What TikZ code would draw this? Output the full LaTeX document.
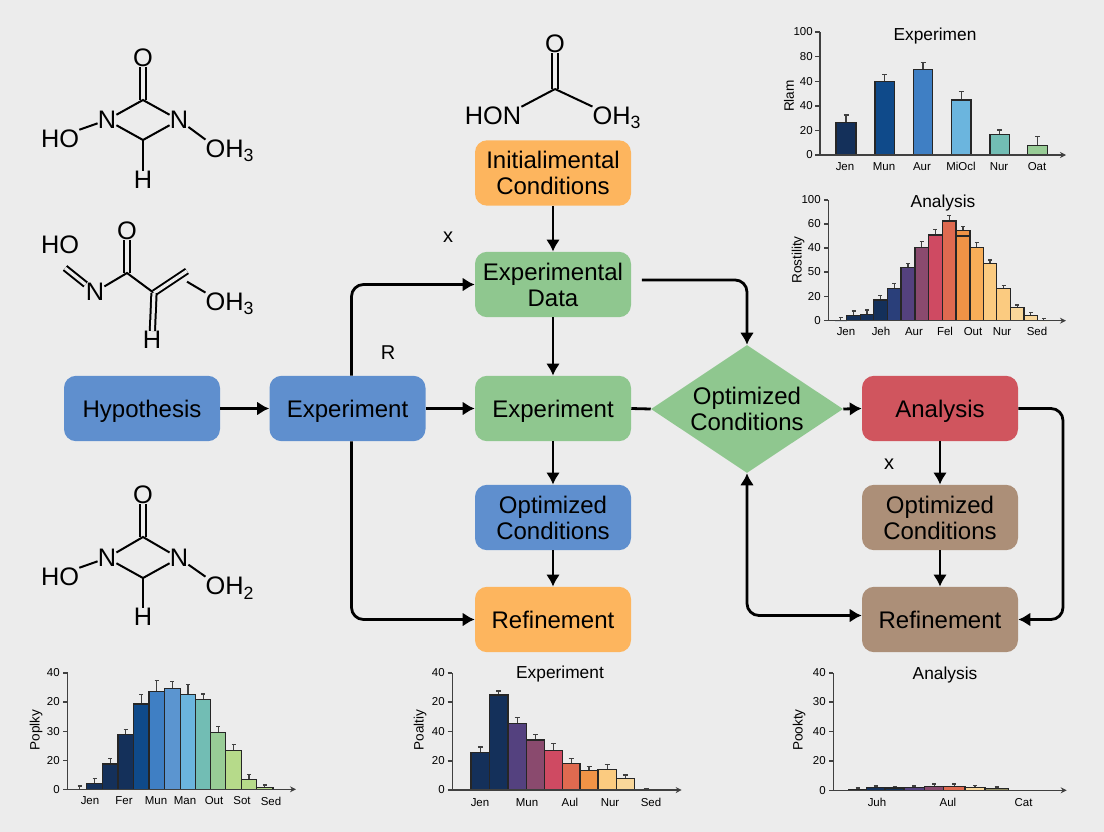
\documentclass[tikz,border=0pt]{standalone}
\usepackage{fontspec}
\setmainfont{Liberation Sans}
\usetikzlibrary{shapes.geometric,arrows.meta}
\definecolor{pagebg}{HTML}{ECECEC}
\definecolor{boxblue}{HTML}{5F8FCE}
\definecolor{boxorange}{HTML}{FDB55E}
\definecolor{boxgreen}{HTML}{8FC78F}
\definecolor{boxred}{HTML}{D0555E}
\definecolor{boxbrown}{HTML}{AC8F78}
\definecolor{navy}{HTML}{14305A}
\definecolor{deep}{HTML}{0F4A8A}
\definecolor{mid}{HTML}{3F7FC4}
\definecolor{soft}{HTML}{5B95D0}
\definecolor{sky}{HTML}{6BB5DE}
\definecolor{teal}{HTML}{72BDB4}
\definecolor{leaf}{HTML}{98CC96}
\definecolor{lime}{HTML}{B6DA8A}
\definecolor{ink}{HTML}{2A3F7A}
\definecolor{plum}{HTML}{54417F}
\definecolor{wine}{HTML}{8A4A6E}
\definecolor{rose}{HTML}{CF4A62}
\definecolor{coral}{HTML}{DF6A50}
\definecolor{amber}{HTML}{F09346}
\definecolor{honey}{HTML}{F8AE58}
\definecolor{sand}{HTML}{FBCB80}
\definecolor{cream}{HTML}{F9D79A}
\definecolor{olive}{HTML}{8F8A60}
\begin{document}
\begin{tikzpicture}[
    x=0.75pt,
    y=-0.75pt,
    >={Latex[length=9pt,width=10.5pt]},
    flowbox/.style={
        rounded corners=9pt,
        align=center,
        inner sep=0pt,
        minimum width=117pt,
        minimum height=49pt,
        font=\fontsize{18}{19.5}\selectfont
    },
    oneline/.style={text depth=0pt},
    flowdia/.style={
        diamond,
        aspect=1.5,
        align=center,
        inner sep=0pt,
        minimum width=144pt,
        minimum height=96pt,
        fill=boxgreen,
        font=\fontsize{18}{19.5}\selectfont
    },
    flow/.style={->,line width=2.1pt,black,rounded corners=9pt},
    atom/.style={inner sep=0pt,font=\fontsize{19}{21}\selectfont},
    bond/.style={line width=1.5pt,black},
    dbond/.style={bond,double=pagebg,double distance=2.4pt},
    marktext/.style={inner sep=0pt,font=\fontsize{15}{17}\selectfont},
    axisline/.style={-{Stealth[length=4.5pt,width=4.5pt]},line width=0.9pt,black!75},
    bar/.style={draw=black!85,line width=0.9pt},
    err/.style={line width=0.8pt,black!75},
    ticklabel/.style={anchor=east,inner sep=0pt,font=\fontsize{8.6}{10}\selectfont},
    barlabel/.style={inner sep=0pt,font=\fontsize{8.6}{10}\selectfont},
    charttitle/.style={inner sep=0pt,text depth=0pt,font=\fontsize{13}{15}\selectfont},
    ylabel/.style={inner sep=0pt,rotate=90,font=\fontsize{10.2}{12}\selectfont}
]
\useasboundingbox (0,0) rectangle (1104,832);
\fill[pagebg] (0,0) rectangle (1104,832);

% Flow
\node[flowbox,oneline,fill=boxblue] (hypo) at (142,408.5) {Hypothesis};
\node[flowbox,oneline,fill=boxblue] (expleft) at (347.5,408.5) {Experiment};
\node[flowbox,fill=boxorange] (init) at (553,173) {Initialimental\\Conditions};
\node[flowbox,fill=boxgreen] (data) at (553,284.5) {Experimental\\Data};
\node[flowbox,oneline,fill=boxgreen] (expmid) at (553,408.5) {Experiment};
\node[flowbox,fill=boxblue] (optmid) at (553,517.5) {Optimized\\Conditions};
\node[flowbox,fill=boxorange] (refmid) at (553,619.5) {Refinement};
\node[flowdia] (optdia) at (747,409) {Optimized\\Conditions};
\node[flowbox,oneline,fill=boxred] (analysis) at (940,408.5) {Analysis};
\node[flowbox,fill=boxbrown] (optright) at (940,517.5) {Optimized\\Conditions};
\node[flowbox,fill=boxbrown] (refright) at (940,619.5) {Refinement};
\coordinate (loopright) at (1063,500);

\node[marktext] (markx) at (448,237.5) {x};
\node[marktext] (markr) at (388,352.5) {R};
\node[marktext] (marky) at (889,464.5) {x};

% Connections
\draw[flow] (hypo.east) -- (expleft.west);
\draw[flow] (expleft.east) -- (expmid.west);
\draw[flow] ([xshift=3pt]expleft.north) |- (data.west);
\draw[flow] ([xshift=3pt]expleft.south) |- (refmid.west);
\draw[flow] (init.south) -- (data.north);
\draw[flow] (data.south) -- (expmid.north);
\draw[flow] (expmid.south) -- (optmid.north);
\draw[flow] (optmid.south) -- (refmid.north);
\draw[line width=2.1pt] (expmid.east) -- (optdia.west);
\draw[flow,shorten <=8pt] ([yshift=3.4pt]data.east) -| (optdia.north);
\draw[flow] (optdia.east) -- (analysis.west);
\draw[flow] (analysis.south) -- (optright.north);
\draw[flow] (optright.south) -- (refright.north);
\draw[flow] (analysis.east) -| (loopright) |- (refright.east);
\draw[flow,<->] (optdia.south) |- ([yshift=3pt]refright.west);

% Molecule top left
\node[atom] (ao) at (143,58) {O};
\coordinate (ac) at (143,100);
\node[atom] (an) at (107,120) {N};
\node[atom] (am) at (179,120) {N};
\coordinate (ad) at (143,140);
\node[atom] (ah) at (143,180) {H};
\node[atom] (ahl) at (60,139) {HO};
\node[atom] (ahr) at (230,151) {OH\textsubscript{3}};
\draw[dbond] (ao) -- (ac);
\draw[bond] (an) -- (ac) -- (am) -- (ad) -- (an);
\draw[bond] (ad) -- (ah);
\draw[bond] (ahl.north east) -- (an);
\draw[bond] (am) -- (ahr.north west);

% Molecule middle left
\node[atom] (bhl) at (60,245) {HO};
\node[atom] (bo) at (127,231) {O};
\node[atom] (bn) at (95,292) {N};
\coordinate (bfree) at (65,268);
\coordinate (bc) at (127,273);
\coordinate (bd) at (154,293);
\coordinate (be) at (187,271);
\node[atom] (bh) at (152,340) {H};
\node[atom] (bhr) at (230,304) {OH\textsubscript{3}};
\draw[dbond] (bfree) -- (bn);
\draw[dbond] (bo) -- (bc);
\draw[bond] (bn) -- (bc) -- (bd);
\draw[dbond] (bd) -- (be);
\draw[dbond] (bd) -- (bh);
\draw[bond] ([yshift=-8pt]be) -- (bhr.north west);

% Molecule bottom left
\node[atom] (co) at (143,495) {O};
\coordinate (cc) at (143,537);
\node[atom] (cn) at (107,558) {N};
\node[atom] (cm) at (179,558) {N};
\coordinate (cd) at (143,578);
\node[atom] (ch) at (143,617) {H};
\node[atom] (chl) at (60,577) {HO};
\node[atom] (chr) at (230,588) {OH\textsubscript{2}};
\draw[dbond] (co) -- (cc);
\draw[bond] (cn) -- (cc) -- (cm) -- (cd) -- (cn);
\draw[bond] (cd) -- (ch);
\draw[bond] (chl.north east) -- (cn);
\draw[bond] (cm) -- (chr.north west);

% Molecule top middle
\node[atom] (do) at (555,44) {O};
\coordinate (dc) at (555,89);
\node[atom] (dl) at (493,116) {HON};
\node[atom] (dr) at (617,118) {OH\textsubscript{3}};
\draw[dbond] (do) -- (dc);
\draw[bond] (dl.north east) -- (dc);
\draw[bond] (dc) -- (dr.north west);

% Chart top right
\node[charttitle] (tatitle) at (935,34) {Experimen};
\node[ylabel] (taylabel) at (789,96) {Rlam};
\foreach \y/\t [count=\i] in {32/100,56.7/80,81.3/40,106/40,130.3/20,155/0}{
    \draw[line width=0.9pt,black!75] (815,\y) -- (820,\y);
    \node[ticklabel] (tatick\i) at (813,\y) {\t};
}
\foreach \xa/\xb/\yt/\ye/\c in {
    836/856/122.7/115/navy,875/894.3/81.3/74.3/deep,913.3/932.7/69.3/62.3/mid,
    951.7/971/100/91.7/sky,990/1009.3/134.3/130/teal,1027.7/1047.3/145.7/136.7/leaf}{
    \draw[err] ({(\xa+\xb)/2},\yt) -- ({(\xa+\xb)/2},\ye) ++(-2.5,0) -- ++(5,0);
    \filldraw[bar,fill=\c] (\xa,155) rectangle (\xb,\yt);
}
\draw[axisline] (820,32) -- (820,155) -- (1066,155);
\foreach \x/\t [count=\i] in {845/Jen,884/Mun,922/Aur,961/MiOcl,999/Nur,1037/Oat}{
    \node[barlabel] (talabel\i) at (\x,166.5) {\t};
}

% Chart middle right
\node[charttitle] (tbtitle) at (943,201) {Analysis};
\node[ylabel] (tbylabel) at (798,260) {Rostility};
\foreach \y/\t [count=\i] in {200/100,224/60,248/40,272/50,296.5/20,320.7/0}{
    \draw[line width=0.9pt,black!75] (824,\y) -- (828.3,\y);
    \node[ticklabel] (tbtick\i) at (821,\y) {\t};
}
\foreach \xa/\xb/\yt/\ye/\c in {
    835/846.7/320.7/317.5/navy,846.7/860.7/315.7/311/navy,860.7/873.3/314.7/310/navy,
    873.3/887.3/300/295.7/navy,887.3/901/288.3/283.3/ink,901/915/267.3/263.3/plum,
    915/928.3/247.7/241.7/wine,928.3/942.3/235/229.3/rose,942.3/956/221/215.7/coral,
    956/970/230.7/226.7/amber,970/983.3/247.7/242.7/honey,983.3/996.7/263.3/260/sand,
    996.7/1010.7/288.3/285.7/sand,1010.7/1024/307.7/305/cream,1024/1037.7/315.7/312.7/cream,
    1037.7/1050/320.7/318.5/cream}{
    \draw[err] ({(\xa+\xb)/2},\yt) -- ({(\xa+\xb)/2},\ye) ++(-2,0) -- ++(4,0);
    \filldraw[bar,fill=\c] (\xa,320.7) rectangle (\xb,\yt);
}
\draw[bar] (956,236) -- (970,236);
\draw[axisline] (828.3,200) -- (828.3,320.7) -- (1066,320.7);
\foreach \x/\t [count=\i] in {846/Jen,881/Jeh,914/Aur,945/Fel,973/Out,1002/Nur,1037/Sed}{
    \node[barlabel] (tblabel\i) at (\x,331.5) {\t};
}

% Chart bottom left
\node[ylabel] (tcylabel) at (36,730) {Poplky};
\foreach \y/\t [count=\i] in {673/40,702/20,731.3/30,760.3/20,789.3/0}{
    \draw[line width=0.9pt,black!75] (63,\y) -- (67.7,\y);
    \node[ticklabel] (tctick\i) at (60,\y) {\t};
}
\foreach \xa/\xb/\yt/\ye/\c in {
    72.5/86.7/789.3/786/navy,86.7/102.3/783.3/778.3/navy,102.3/118/764/758.3/navy,
    118/133.3/734.7/729.3/navy,133.3/149/704/694.7/deep,149/164.3/691.3/680.7/mid,
    164.3/180.3/688.3/681.7/soft,180.3/195.7/694.3/684.3/sky,195.7/210.7/699.3/694/teal,
    210.7/225.7/732.3/726.7/leaf,225.7/241.3/750.3/744.7/lime,241.3/256.7/779.3/774.3/lime,
    256.7/273/787.5/785/lime}{
    \draw[err] ({(\xa+\xb)/2},\yt) -- ({(\xa+\xb)/2},\ye) ++(-2,0) -- ++(4,0);
    \filldraw[bar,fill=\c] (\xa,789.3) rectangle (\xb,\yt);
}
\draw[axisline] (67.7,673) -- (67.7,789.3) -- (296,789.3);
\foreach \x/\t [count=\i] in {90/Jen,124/Fer,156/Mun,185/Man,214/Out,242/Sot,271/Sed}{
    \node[barlabel] (tclabel\i) at (\x,801) {\t};
}

% Chart bottom middle
\node[charttitle] (tdtitle) at (560,672) {Experiment};
\node[ylabel] (tdylabel) at (420,730) {Poaltiy};
\foreach \y/\t [count=\i] in {673/40,702/20,731.3/40,761/20,790/0}{
    \draw[line width=0.9pt,black!75] (447.5,\y) -- (452.3,\y);
    \node[ticklabel] (tdtick\i) at (445,\y) {\t};
}
\foreach \xa/\xb/\yt/\ye/\c in {
    471/489.7/752.3/747/navy,489.7/508/695/691/navy,508/526.3/723.3/717.3/plum,
    526.3/544.7/740/734.7/wine,544.7/562.3/750.7/743.7/rose,562.3/580/763.3/758.7/coral,
    580/598/770.3/766.3/amber,598/616.3/769.3/764.3/sand,616.3/634.7/778.7/775/cream,
    640/652/789.5/788.5/cream}{
    \draw[err] ({(\xa+\xb)/2},\yt) -- ({(\xa+\xb)/2},\ye) ++(-2.5,0) -- ++(5,0);
    \filldraw[bar,fill=\c] (\xa,790) rectangle (\xb,\yt);
}
\draw[axisline] (452.3,673) -- (452.3,790) -- (681.7,790);
\foreach \x/\t [count=\i] in {480/Jen,527/Mun,570/Aul,610/Nur,651/Sed}{
    \node[barlabel] (tdlabel\i) at (\x,802.5) {\t};
}

% Chart bottom right
\node[charttitle] (tetitle) at (945,673) {Analysis};
\node[ylabel] (teylabel) at (799,730) {Pookty};
\foreach \y/\t [count=\i] in {673/40,702/30,731.3/40,761/20,790.3/0}{
    \draw[line width=0.9pt,black!75] (829,\y) -- (833.3,\y);
    \node[ticklabel] (tetick\i) at (826,\y) {\t};
}
\foreach \xa/\xb/\yt/\ye/\c in {
    849/866.3/789.3/788/navy,866.3/885/787.3/786/navy,885/904/788/786.5/navy,
    904/924.7/787.3/786/plum,924.7/943.7/786.7/784/wine,943.7/965/786.7/784/coral,
    965/985/787.3/785.5/cream,985/1008.3/788.7/787/olive}{
    \draw[err] ({(\xa+\xb)/2},\yt) -- ({(\xa+\xb)/2},\ye) ++(-2,0) -- ++(4,0);
    \filldraw[bar,fill=\c] (\xa,790.3) rectangle (\xb,\yt);
}
\draw[axisline] (833.3,673) -- (833.3,790.3) -- (1066.7,790.3);
\foreach \x/\t [count=\i] in {877/Juh,948/Aul,1023.6/Cat}{
    \node[barlabel] (telabel\i) at (\x,802.5) {\t};
}

\end{tikzpicture}
\end{document}
